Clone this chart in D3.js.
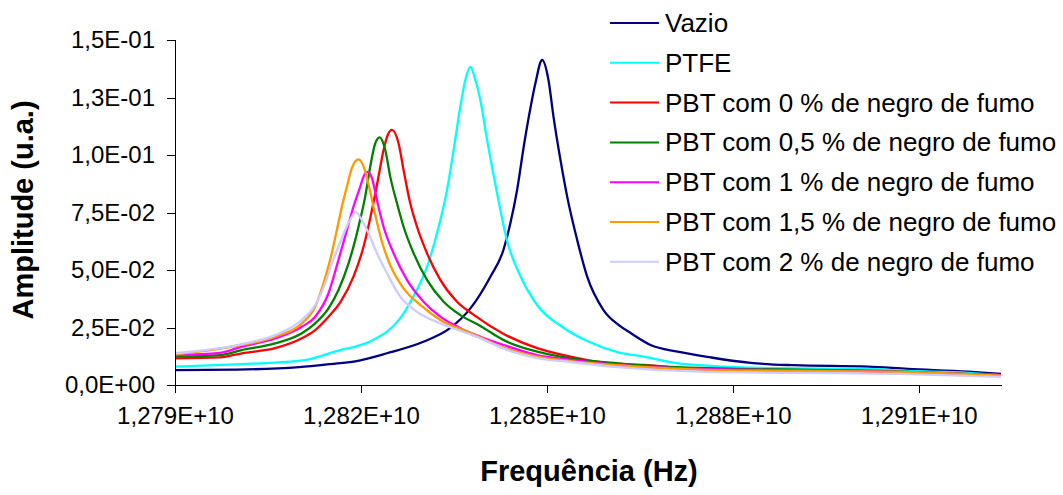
<!DOCTYPE html>
<html>
<head>
<meta charset="utf-8">
<script src="https://cdn.jsdelivr.net/npm/d3@7/dist/d3.min.js"></script>
<style>
  html, body { margin: 0; padding: 0; background: #fff; }
  svg { display: block; }
  text { font-family: Arial, "Liberation Sans", sans-serif; fill: #000; }
</style>
</head>
<body>
<svg id="chart" width="1063" height="495"></svg>
<script>
// Resonance curves: frequency (MHz) and amplitude (a.u.) for each sample
const vazioFreq = [12790.00, 12800.00, 12810.03, 12815.04, 12819.08, 12824.20, 12830.07, 12834.43, 12837.66, 12840.89, 12842.99, 12844.12, 12845.20, 12846.27, 12847.35, 12848.16, 12849.24, 12850.26, 12851.07, 12852.20, 12853.28, 12854.90, 12856.51, 12859.14, 12861.57, 12863.51, 12866.74, 12871.10, 12876.43, 12882.89, 12889.84, 12901.79, 12908.25, 12917.95, 12923.28];
const vazioAmp  = [0.0065, 0.0067, 0.0078, 0.0091, 0.0103, 0.0138, 0.0188, 0.0248, 0.0333, 0.0471, 0.0587, 0.0704, 0.0848, 0.1036, 0.1204, 0.1313, 0.1413, 0.1326, 0.1167, 0.0978, 0.0819, 0.0630, 0.0471, 0.0326, 0.0261, 0.0226, 0.0174, 0.0145, 0.0120, 0.0096, 0.0086, 0.0080, 0.0070, 0.0058, 0.0048];

const ptfeFreq = [12790.00, 12800.78, 12806.16, 12811.81, 12816.66, 12819.08, 12821.99, 12826.35, 12828.45, 12830.66, 12832.28, 12833.89, 12834.96, 12836.04, 12836.85, 12837.66, 12838.47, 12839.27, 12840.36, 12841.97, 12843.59, 12845.73, 12848.43, 12852.73, 12856.51, 12861.36, 12865.61, 12871.10, 12876.43, 12887.25, 12901.79, 12907.12, 12917.95, 12923.28];
const ptfeAmp  = [0.0080, 0.0091, 0.0097, 0.0113, 0.0152, 0.0167, 0.0196, 0.0291, 0.0384, 0.0514, 0.0660, 0.0848, 0.1022, 0.1210, 0.1326, 0.1383, 0.1326, 0.1239, 0.1065, 0.0835, 0.0626, 0.0474, 0.0348, 0.0248, 0.0191, 0.0143, 0.0123, 0.0094, 0.0083, 0.0073, 0.0070, 0.0062, 0.0053, 0.0043];

const pbt0Freq = [12790.00, 12797.27, 12800.78, 12806.16, 12810.47, 12812.62, 12814.77, 12816.66, 12818.80, 12820.42, 12821.78, 12822.84, 12823.65, 12824.33, 12825.01, 12826.07, 12826.88, 12827.96, 12829.05, 12830.66, 12832.81, 12835.51, 12837.98, 12843.04, 12848.43, 12853.81, 12859.47, 12865.61, 12874.81, 12905.51, 12923.28];
const pbt0Amp  = [0.0116, 0.0120, 0.0138, 0.0160, 0.0203, 0.0239, 0.0297, 0.0359, 0.0471, 0.0601, 0.0761, 0.0906, 0.1022, 0.1087, 0.1109, 0.1051, 0.0935, 0.0790, 0.0688, 0.0573, 0.0457, 0.0362, 0.0309, 0.0222, 0.0160, 0.0123, 0.0096, 0.0087, 0.0068, 0.0058, 0.0043];

const pbt05Freq = [12790.00, 12797.27, 12800.78, 12806.16, 12810.47, 12812.62, 12814.77, 12816.38, 12818.00, 12819.08, 12819.61, 12820.69, 12821.50, 12822.31, 12823.01, 12823.93, 12824.73, 12825.82, 12826.88, 12828.50, 12830.66, 12833.35, 12836.04, 12839.27, 12843.04, 12848.43, 12853.81, 12861.36, 12874.81, 12903.89, 12923.28];
const pbt05Amp  = [0.0123, 0.0130, 0.0152, 0.0181, 0.0225, 0.0268, 0.0333, 0.0413, 0.0529, 0.0630, 0.0688, 0.0819, 0.0949, 0.1051, 0.1077, 0.1022, 0.0906, 0.0790, 0.0688, 0.0573, 0.0457, 0.0362, 0.0304, 0.0257, 0.0195, 0.0145, 0.0116, 0.0094, 0.0074, 0.0061, 0.0043];

const pbt1Freq = [12790.00, 12797.27, 12800.78, 12806.16, 12810.47, 12812.62, 12814.77, 12816.38, 12817.74, 12818.80, 12819.89, 12820.42, 12821.07, 12821.78, 12822.58, 12823.65, 12825.27, 12827.43, 12830.11, 12832.81, 12836.04, 12839.27, 12843.04, 12848.43, 12853.81, 12861.36, 12874.81, 12900.66, 12923.28];
const pbt1Amp  = [0.0130, 0.0140, 0.0167, 0.0203, 0.0253, 0.0297, 0.0399, 0.0544, 0.0674, 0.0775, 0.0862, 0.0906, 0.0927, 0.0899, 0.0804, 0.0688, 0.0573, 0.0457, 0.0362, 0.0297, 0.0247, 0.0210, 0.0174, 0.0130, 0.0109, 0.0087, 0.0070, 0.0061, 0.0043];

const pbt15Freq = [12790.00, 12800.78, 12806.16, 12810.47, 12812.62, 12813.96, 12815.04, 12816.12, 12816.93, 12817.74, 12818.55, 12819.61, 12820.69, 12821.50, 12822.31, 12823.39, 12824.73, 12826.88, 12829.58, 12832.81, 12837.12, 12839.27, 12843.04, 12848.43, 12853.81, 12861.89, 12877.24, 12907.12, 12923.28];
const pbt15Amp  = [0.0133, 0.0174, 0.0210, 0.0268, 0.0340, 0.0442, 0.0544, 0.0674, 0.0775, 0.0862, 0.0944, 0.0981, 0.0930, 0.0840, 0.0740, 0.0623, 0.0521, 0.0420, 0.0348, 0.0283, 0.0232, 0.0207, 0.0163, 0.0123, 0.0104, 0.0085, 0.0065, 0.0057, 0.0041];

const pbt2Freq = [12790.00, 12800.78, 12806.16, 12810.47, 12812.62, 12814.23, 12815.32, 12816.38, 12817.46, 12818.55, 12819.08, 12820.16, 12821.23, 12822.58, 12824.20, 12826.35, 12829.05, 12832.81, 12837.12, 12839.27, 12843.04, 12848.43, 12853.81, 12861.41, 12874.81, 12907.12, 12923.28];
const pbt2Amp  = [0.0138, 0.0178, 0.0217, 0.0283, 0.0348, 0.0442, 0.0529, 0.0601, 0.0674, 0.0732, 0.0754, 0.0717, 0.0660, 0.0573, 0.0486, 0.0384, 0.0318, 0.0268, 0.0225, 0.0203, 0.0158, 0.0117, 0.0100, 0.0078, 0.0058, 0.0048, 0.0035];

const seriesNames = ["Vazio", "PTFE", "PBT com 0 % de negro de fumo", "PBT com 0,5 % de negro de fumo",
                     "PBT com 1 % de negro de fumo", "PBT com 1,5 % de negro de fumo", "PBT com 2 % de negro de fumo"];
const seriesColors = ["#000080", "#00FFFF", "#FF0000", "#008000", "#FF00FF", "#FF9900", "#CCCCFF"];

// Axis ticks
const xTickValues = [12790, 12820, 12850, 12880, 12910];            // MHz
const xTickLabels = ["1,279E+10", "1,282E+10", "1,285E+10", "1,288E+10", "1,291E+10"];
const yTickValues = [0, 0.025, 0.05, 0.075, 0.1, 0.125, 0.15];
const yTickLabels = ["0,0E+00", "2,5E-02", "5,0E-02", "7,5E-02", "1,0E-01", "1,3E-01", "1,5E-01"];

const xTitle = "Frequência (Hz)";
const yTitle = "Amplitude (u.a.)";

const series = [
  { f: vazioFreq, a: vazioAmp },
  { f: ptfeFreq,  a: ptfeAmp },
  { f: pbt0Freq,  a: pbt0Amp },
  { f: pbt05Freq, a: pbt05Amp },
  { f: pbt1Freq,  a: pbt1Amp },
  { f: pbt15Freq, a: pbt15Amp },
  { f: pbt2Freq,  a: pbt2Amp }
].map((s, i) => ({
  name: seriesNames[i],
  color: seriesColors[i],
  points: s.f.map((f, j) => ({ f: f * 1e6, a: s.a[j] }))
}));

const svg = d3.select("#chart");
const plot = { left: 175, right: 1001, top: 40, bottom: 385 };

const x = d3.scaleLinear()
  .domain([12790e6, 12923.28e6])
  .range([plot.left, plot.right]);
const y = d3.scaleLinear()
  .domain([0, 0.15])
  .range([plot.bottom, plot.top]);

// Curves
const line = d3.line()
  .x(d => x(d.f))
  .y(d => y(d.a))
  .curve(d3.curveMonotoneX);

svg.append("g")
  .selectAll("path")
  .data(series)
  .join("path")
  .attr("d", d => line(d.points))
  .attr("fill", "none")
  .attr("stroke", d => d.color)
  .attr("stroke-width", 2.3)
  .attr("stroke-linejoin", "round");

// Y axis
const yAxis = d3.axisLeft(y)
  .tickValues(yTickValues)
  .tickFormat((d, i) => yTickLabels[i])
  .tickSize(8)
  .tickPadding(12);
const gy = svg.append("g")
  .attr("transform", `translate(${plot.left},0)`)
  .call(yAxis);
gy.select(".domain").attr("stroke", "#000").attr("shape-rendering", "crispEdges");
gy.selectAll(".tick line").attr("stroke", "#000").attr("shape-rendering", "crispEdges");
gy.selectAll(".tick text")
  .style("font-family", "Arial, 'Liberation Sans', sans-serif")
  .style("font-size", "24px")
  .attr("fill", "#000");

// X axis
const xAxis = d3.axisBottom(x)
  .tickValues(xTickValues.map(v => v * 1e6))
  .tickFormat((d, i) => xTickLabels[i])
  .tickSize(8)
  .tickPadding(14)
  .tickSizeOuter(0);
const gx = svg.append("g")
  .attr("transform", `translate(0,${plot.bottom})`)
  .call(xAxis);
gx.select(".domain").attr("stroke", "#000").attr("shape-rendering", "crispEdges");
gx.selectAll(".tick line").attr("stroke", "#000").attr("shape-rendering", "crispEdges");
gx.selectAll(".tick text")
  .style("font-family", "Arial, 'Liberation Sans', sans-serif")
  .style("font-size", "24px")
  .attr("fill", "#000");

// Axis titles
svg.append("text")
  .attr("x", 589)
  .attr("y", 481)
  .attr("text-anchor", "middle")
  .style("font-size", "29px")
  .style("font-weight", "bold")
  .text(xTitle);

svg.append("text")
  .attr("transform", "translate(33,210) rotate(-90)")
  .attr("text-anchor", "middle")
  .style("font-size", "29px")
  .style("font-weight", "bold")
  .text(yTitle);

// Legend
const legend = svg.append("g").attr("transform", "translate(610,23)");
const rows = legend.selectAll("g")
  .data(series)
  .join("g")
  .attr("transform", (d, i) => `translate(0,${i * 39.8})`);
rows.append("line")
  .attr("x1", 0).attr("x2", 49)
  .attr("y1", 0).attr("y2", 0)
  .attr("stroke", d => d.color)
  .attr("stroke-width", 2);
rows.append("text")
  .attr("x", 55)
  .attr("y", 9)
  .style("font-size", "26px")
  .text(d => d.name);
</script>
</body>
</html>
